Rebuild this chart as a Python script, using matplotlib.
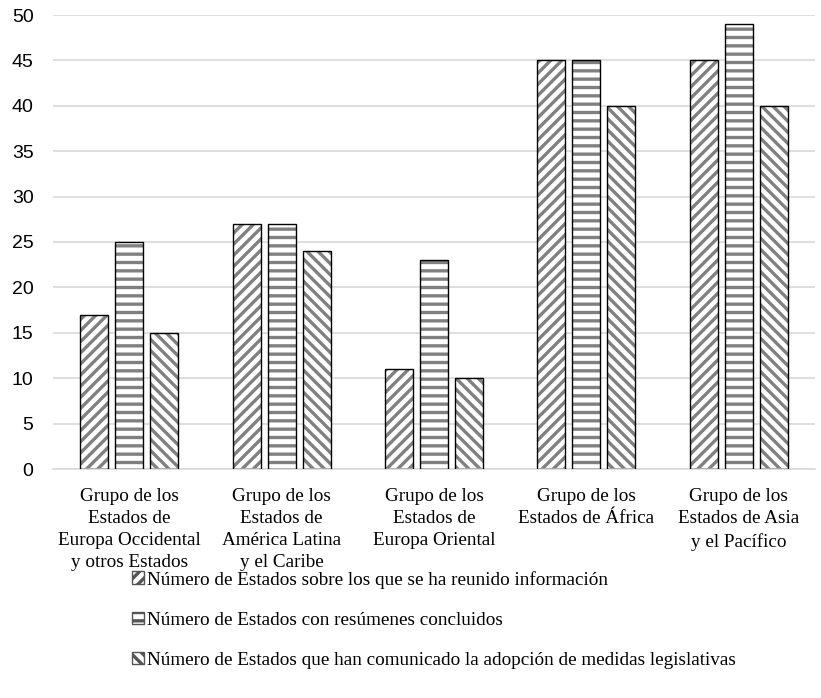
import numpy as np
import matplotlib.pyplot as plt
from matplotlib.patches import Patch

grupos = ['Grupo de los\nEstados de\nEuropa Occidental\ny otros Estados',
          'Grupo de los\nEstados de\nAmérica Latina\ny el Caribe',
          'Grupo de los\nEstados de\nEuropa Oriental',
          'Grupo de los\nEstados de África',
          'Grupo de los\nEstados de Asia\ny el Pacífico']
reunido = [17, 27, 11, 45, 45]
resumenes = [25, 27, 23, 45, 49]
legislativas = [15, 24, 10, 40, 40]
series = ['Número de Estados sobre los que se ha reunido información',
          'Número de Estados con resúmenes concluidos',
          'Número de Estados que han comunicado la adopción de medidas legislativas']
hatches = ['///', '--', '\\\\\\']

plt.rcParams['hatch.linewidth'] = 2.4
fig = plt.figure(figsize=(8.21, 6.98), dpi=100)
ax = fig.add_axes([53/821, 1-469/698, 762/821, 454/698])

x = np.arange(len(grupos))
w = 0.184
step = 0.23
for i, vals in enumerate([reunido, resumenes, legislativas]):
    pos = x + (i-1)*step
    # hatch in grey first, then the black outline on top
    ax.bar(pos, vals, w, color='white', edgecolor='#808080', hatch=hatches[i], linewidth=0, zorder=2)
    ax.bar(pos, vals, w, color='none', edgecolor='black', linewidth=1.0, zorder=3)

ax.set_xlim(-0.5, 4.5)
ax.set_ylim(0, 50)
ax.set_yticks(range(0, 51, 5))
ax.grid(axis='y', color='#d9d9d9', linewidth=1.2, zorder=0)
ax.set_axisbelow(True)
for s in ['top', 'right', 'left']:
    ax.spines[s].set_visible(False)
ax.spines['bottom'].set_color('#d9d9d9')
ax.spines['bottom'].set_linewidth(1.2)
ax.tick_params(axis='both', length=0)
ax.tick_params(axis='y', labelsize=14, pad=14)
for t in ax.get_yticklabels():
    t.set_fontfamily('Liberation Sans')
ax.set_xticks(x)
ax.set_xticklabels(grupos, fontfamily='Liberation Serif', fontsize=13.8, linespacing=1.38)
ax.tick_params(axis='x', pad=14)

handles = [Patch(facecolor='white', edgecolor='#555555', hatch=h) for h in hatches]
fig.legend(handles, series, loc='upper left', bbox_to_anchor=(124/821, 1-563/698),
           frameon=False, prop={'family': 'Liberation Serif', 'size': 13.8},
           handlelength=0.65, handleheight=0.65, handletextpad=0.15, labelspacing=1.2,
           borderaxespad=0)

fig.savefig('out.png', dpi=100)
